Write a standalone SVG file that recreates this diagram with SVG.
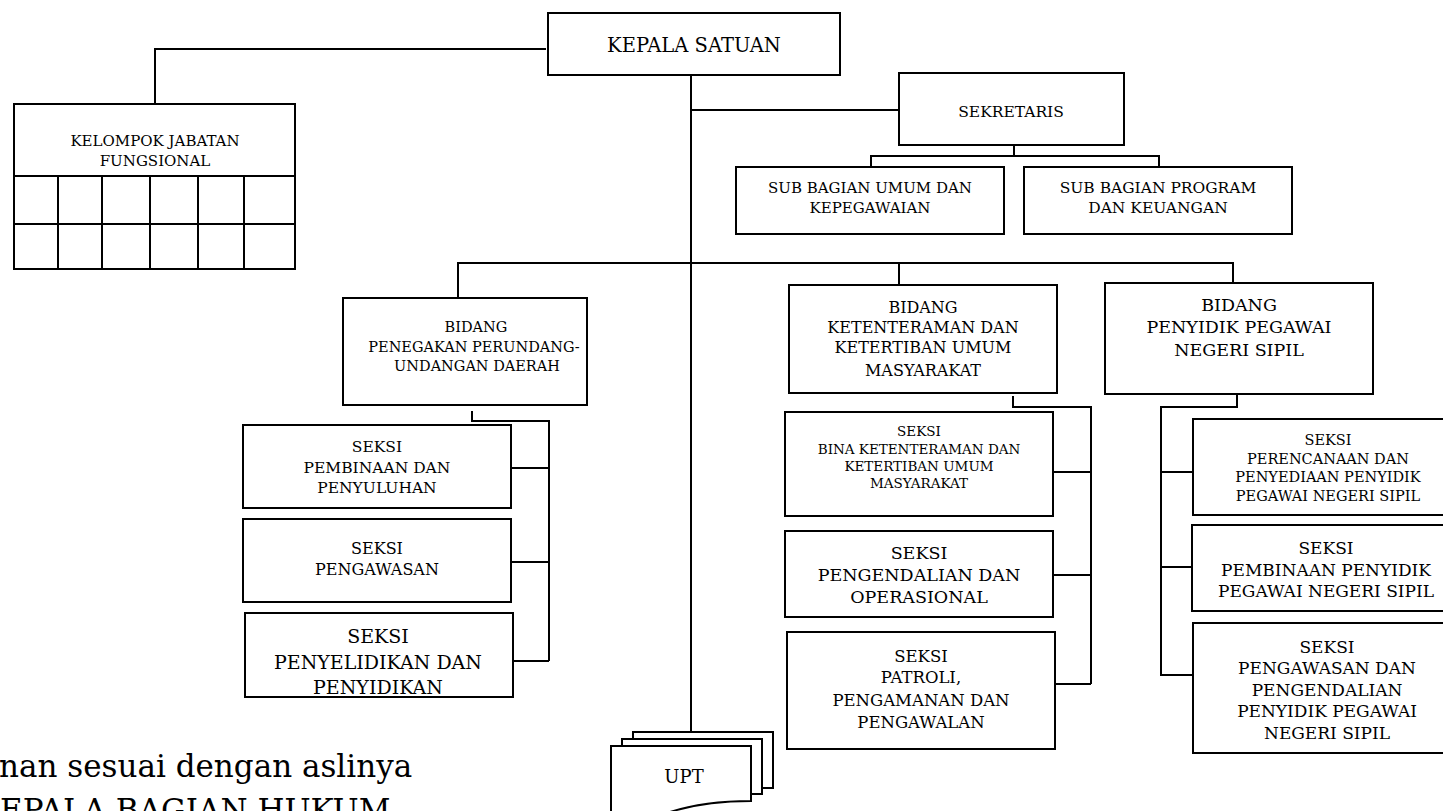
<svg xmlns="http://www.w3.org/2000/svg" width="1443" height="811" viewBox="0 0 1443 811">
<style>
.box{fill:#fff;stroke:#000;stroke-width:2}
.ln{fill:none;stroke:#000;stroke-width:2}
text{font-family:"DejaVu Serif","Liberation Serif",serif;fill:#000;text-anchor:middle}
.s13{font-size:13.5px}.s145{font-size:14.5px}.s15{font-size:15px}.s155{font-size:15.5px}.s16{font-size:16px}.s165{font-size:16.5px}.s17{font-size:17px}.s175{font-size:17.5px}.s19{font-size:19px}
.foot{font-size:31px;text-anchor:start}
</style>
<rect x="0" y="0" width="1443" height="811" fill="#fff"/>
<g id="connectors">
<path class="ln" d="M155,104 V49 H546"/>
<path class="ln" d="M691,75 V732"/>
<path class="ln" d="M691,110 H899"/>
<path class="ln" d="M1014,145 V156 M871,167 V156 H1159 V167"/>
<path class="ln" d="M458,298 V263 H1233 V283 M899,263 V285"/>
<path class="ln" d="M472,411 V421 H549 V661 M511,468 H549 M511,562 H549 M513,661 H549"/>
<path class="ln" d="M1013,396 V407 H1091 V684 M1053,472 H1091 M1053,575 H1091 M1055,684 H1091"/>
<path class="ln" d="M1237,394 V407 H1161 V675 H1193 M1161,472 H1193 M1161,567 H1192"/>
</g>
<g id="kepala">
<rect class="box" x="548" y="13" width="292" height="62"/>
<text x="694" y="52" style="font-size:19.5px">KEPALA SATUAN</text>
</g>
<g id="kelompok">
<rect class="box" x="14" y="104" width="281" height="165"/>
<path class="ln" d="M14,176 H295 M14,224 H295 M58,176 V269 M102,176 V270 M150,176 V269 M198,176 V269 M244,176 V270"/>
<text class="s15" x="155" y="146">KELOMPOK JABATAN</text>
<text class="s15" x="155" y="166">FUNGSIONAL</text>
</g>
<g id="sekretaris">
<rect class="box" x="899" y="73" width="225" height="72"/>
<text class="s155" x="1011" y="117">SEKRETARIS</text>
</g>
<g id="sub-umum">
<rect class="box" x="736" y="167" width="268" height="67"/>
<text class="s15" x="870" y="193">SUB BAGIAN UMUM DAN</text>
<text class="s15" x="870" y="213">KEPEGAWAIAN</text>
</g>
<g id="sub-program">
<rect class="box" x="1024" y="167" width="268" height="67"/>
<text class="s155" x="1158" y="193">SUB BAGIAN PROGRAM</text>
<text class="s155" x="1158" y="213">DAN KEUANGAN</text>
</g>
<g id="bidang-penegakan">
<rect class="box" x="343" y="298" width="244" height="107"/>
<text class="s145" x="476" y="332">BIDANG</text>
<text class="s145" x="474" y="352">PENEGAKAN PERUNDANG-</text>
<text class="s145" x="477" y="371">UNDANGAN DAERAH</text>
</g>
<g id="seksi-pembinaan-penyuluhan">
<rect class="box" x="243" y="425" width="268" height="83"/>
<text class="s155" x="377" y="452">SEKSI</text>
<text class="s155" x="377" y="473">PEMBINAAN DAN</text>
<text class="s155" x="377" y="493">PENYULUHAN</text>
</g>
<g id="seksi-pengawasan">
<rect class="box" x="243" y="519" width="268" height="83"/>
<text class="s16" x="377" y="554">SEKSI</text>
<text class="s16" x="377" y="575">PENGAWASAN</text>
</g>
<g id="seksi-penyelidikan">
<rect class="box" x="245" y="613" width="268" height="84"/>
<text class="s19" x="378" y="643">SEKSI</text>
<text class="s19" x="378" y="669">PENYELIDIKAN DAN</text>
<text class="s19" x="378" y="694">PENYIDIKAN</text>
</g>
<g id="bidang-ketenteraman">
<rect class="box" x="789" y="285" width="268" height="108"/>
<text class="s16" x="923" y="313">BIDANG</text>
<text class="s16" x="923" y="333">KETENTERAMAN DAN</text>
<text class="s16" x="923" y="353">KETERTIBAN UMUM</text>
<text class="s16" x="923" y="376">MASYARAKAT</text>
</g>
<g id="seksi-bina">
<rect class="box" x="785" y="412" width="268" height="104"/>
<text class="s13" x="919" y="436">SEKSI</text>
<text class="s13" x="919" y="454">BINA KETENTERAMAN DAN</text>
<text class="s13" x="919" y="471">KETERTIBAN UMUM</text>
<text class="s13" x="919" y="488">MASYARAKAT</text>
</g>
<g id="seksi-pengendalian">
<rect class="box" x="785" y="531" width="268" height="86"/>
<text class="s175" x="919" y="559">SEKSI</text>
<text class="s175" x="919" y="581">PENGENDALIAN DAN</text>
<text class="s175" x="919" y="603">OPERASIONAL</text>
</g>
<g id="seksi-patroli">
<rect class="box" x="787" y="632" width="268" height="117"/>
<text class="s165" x="921" y="662">SEKSI</text>
<text class="s165" x="921" y="683">PATROLI,</text>
<text class="s165" x="921" y="706">PENGAMANAN DAN</text>
<text class="s165" x="921" y="728">PENGAWALAN</text>
</g>
<g id="bidang-penyidik">
<rect class="box" x="1105" y="283" width="268" height="111"/>
<text class="s175" x="1239" y="311">BIDANG</text>
<text class="s175" x="1239" y="333">PENYIDIK PEGAWAI</text>
<text class="s175" x="1239" y="356">NEGERI SIPIL</text>
</g>
<g id="seksi-perencanaan">
<rect class="box" x="1193" y="419" width="270" height="96"/>
<text class="s145" x="1328" y="445">SEKSI</text>
<text class="s145" x="1328" y="464">PERENCANAAN DAN</text>
<text class="s145" x="1328" y="482">PENYEDIAAN PENYIDIK</text>
<text class="s145" x="1328" y="501">PEGAWAI NEGERI SIPIL</text>
</g>
<g id="seksi-pembinaan-ppns">
<rect class="box" x="1192" y="525" width="270" height="86"/>
<text class="s17" x="1326" y="554">SEKSI</text>
<text class="s17" x="1326" y="576">PEMBINAAN PENYIDIK</text>
<text class="s17" x="1326" y="597">PEGAWAI NEGERI SIPIL</text>
</g>
<g id="seksi-pengawasan-ppns">
<rect class="box" x="1193" y="623" width="270" height="130"/>
<text class="s17" x="1327" y="653">SEKSI</text>
<text class="s17" x="1327" y="674">PENGAWASAN DAN</text>
<text class="s17" x="1327" y="696">PENGENDALIAN</text>
<text class="s17" x="1327" y="717">PENYIDIK PEGAWAI</text>
<text class="s17" x="1327" y="739">NEGERI SIPIL</text>
</g>
<g id="upt">
<rect class="box" x="633" y="732" width="140" height="56"/>
<rect class="box" x="622" y="739" width="140" height="55"/>
<path class="box" d="M611,746 H751 V801 C718,801 692,805 670,812 C645,820 625,820 611,818 Z"/>
<text x="684" y="783" style="font-size:18px">UPT</text>
</g>
<g id="footer">
<text class="foot" x="-1" y="777">nan sesuai dengan aslinya</text>
<text class="foot" x="0" y="821">EPALA BAGIAN HUKUM</text>
</g>
</svg>
